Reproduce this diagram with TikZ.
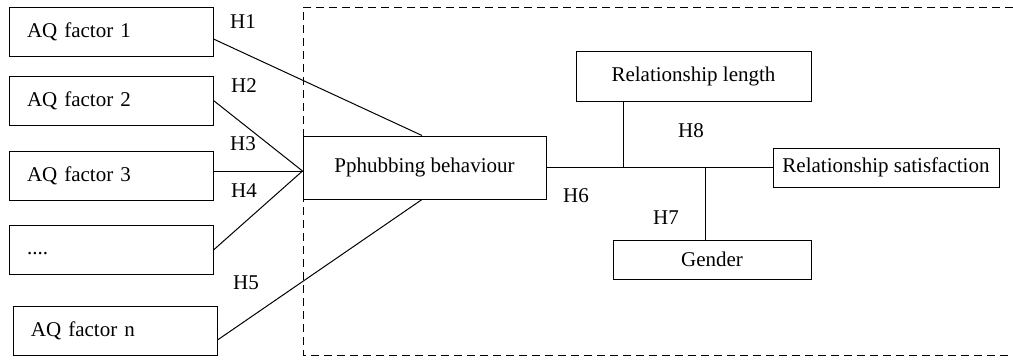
\documentclass[tikz,border=0pt]{standalone}
\usepackage{fontspec}
\setmainfont{Liberation Serif}
\usepackage{tikz}
\usetikzlibrary{calc}

\begin{document}
\begin{tikzpicture}[x = 0.5pt, y = -0.5pt,
    line width = 0.5pt,
    every node/.style = {font = \fontsize{10.5}{12}\selectfont},
    factor/.style = {draw, rectangle, minimum width = 102pt, minimum height = 24.5pt,
                     text width = 84pt, inner sep = 0pt, align = left},
    var/.style = {draw, rectangle, inner sep = 0pt},
    hyp/.style = {inner sep = 0pt}]

  \useasboundingbox (0,0) rectangle (1013,360);

  % Region of the moderated part
  \draw[dash pattern = on 4pt off 2.5pt] (1013,7) -- (303,7) -- (303,355) -- (1013,355);

  % AQ factors
  \node[factor] (aq1) at (111, 31.5) {\raisebox{-2pt}{AQ factor 1}};
  \node[factor] (aq2) at (111,100.5) {\raisebox{-2pt}{AQ factor 2}};
  \node[factor] (aq3) at (111,175.5) {\raisebox{-2pt}{AQ factor 3}};
  \node[factor] (aqd) at (111,250) {\raisebox{-5pt}{....}};
  \node[factor] (aqn) at (115,331) {\raisebox{-2pt}{AQ factor n}};

  % Central variables
  \node[var, minimum width = 121.5pt, minimum height = 31.5pt] (phub) at (424.5,167.5) {Pphubbing behaviour};
  \node[var, minimum width = 117.5pt, minimum height = 25pt] (rlen) at (693.5,76) {Relationship length};
  \node[var, minimum width = 113pt, minimum height = 19.5pt] (rsat) at (886,167.5) {Relationship satisfaction};
  \node[var, minimum width = 99pt, minimum height = 19.5pt] (gend) at (712,259.5) {Gender};

  \coordinate (hub) at ([yshift=-1.75pt]phub.west);

  % Paths of the hypotheses
  \draw ([yshift=-3.75pt]aq1.east) -- ([xshift=-1.25pt]phub.north);
  \draw (aq2.east) -- (hub);
  \draw (aq3.east |- hub) -- (hub);
  \draw (aqd.east) -- (hub);
  \draw ([yshift=-4.5pt]aqn.east) -- ([xshift=-1.25pt]phub.south);
  \draw (phub.east) -- (rsat.west);
  \draw ([xshift=24pt]rlen.south west) -- ([xshift=24pt]rlen.south west |- phub.east);
  \draw ([xshift=46.5pt]gend.north west) -- ([xshift=46.5pt]gend.north west |- phub.east);

  % Labels
  \node[hyp] (h1) at (243, 22) {H1};
  \node[hyp] (h2) at (244, 86) {H2};
  \node[hyp] (h3) at (243,144) {H3};
  \node[hyp] (h4) at (244,191) {H4};
  \node[hyp] (h5) at (246,283) {H5};
  \node[hyp] (h6) at (576,196) {H6};
  \node[hyp] (h7) at (666,218) {H7};
  \node[hyp] (h8) at (691,131) {H8};
\end{tikzpicture}
\end{document}
